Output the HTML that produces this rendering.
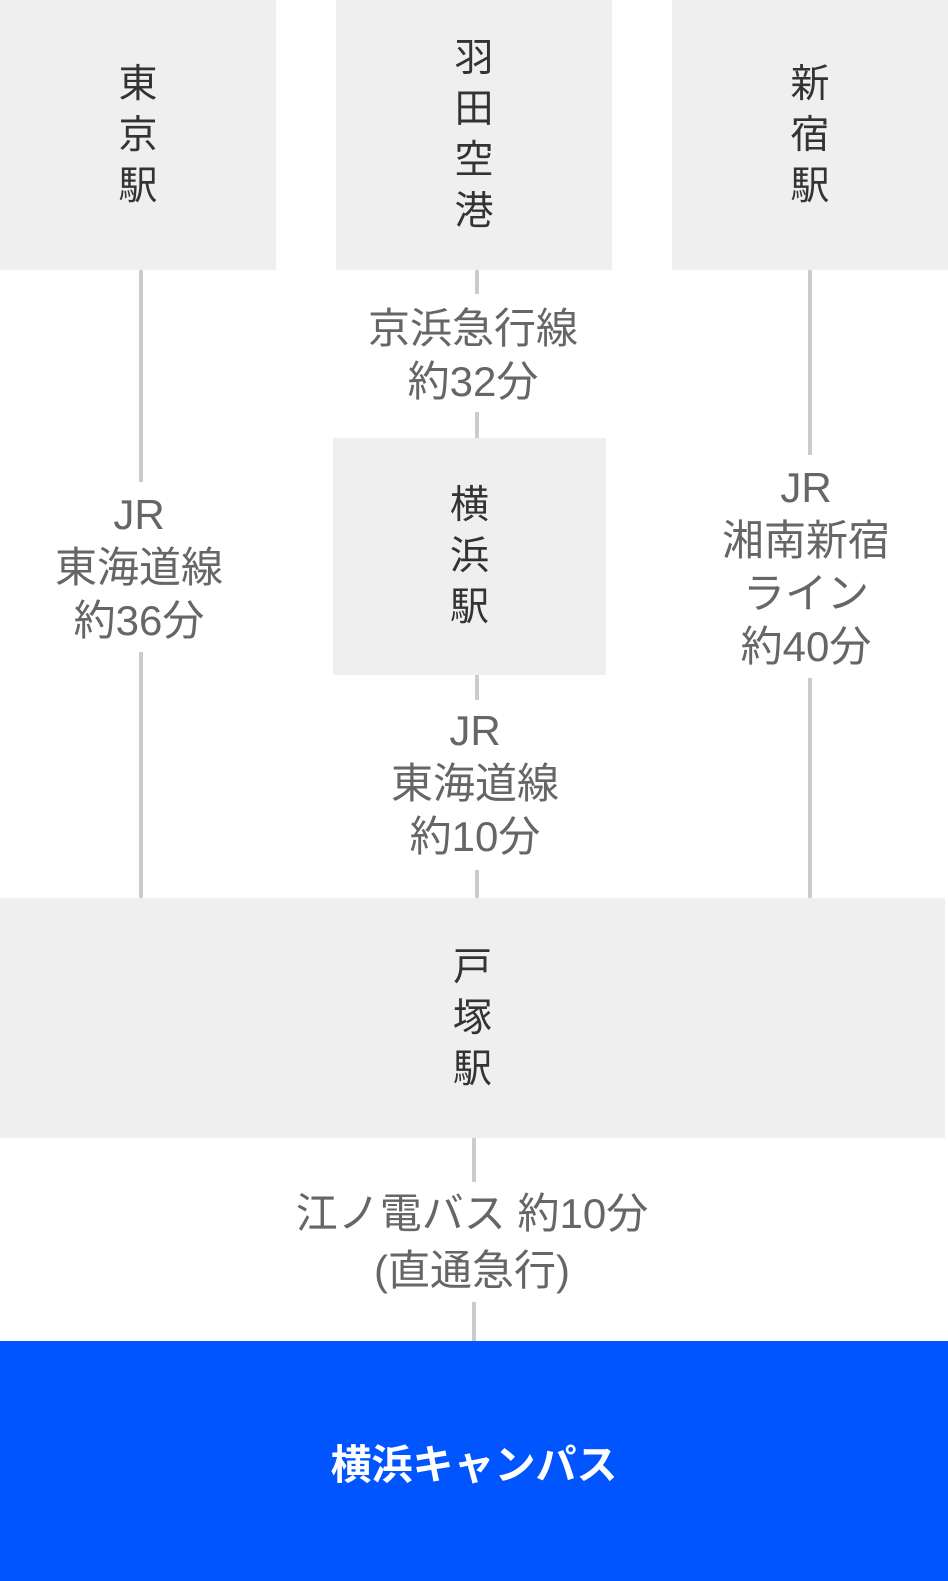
<!DOCTYPE html>
<html><head><meta charset="utf-8"><style>
body{margin:0;width:948px;height:1581px;position:relative;background:#fff;overflow:hidden;font-family:"Liberation Sans","Noto Sans CJK JP",sans-serif}
.b{position:absolute;background:#efefef;display:flex;align-items:center;justify-content:center;color:#333;font-size:39px;line-height:51px;text-align:center}
.v{width:1em}
.l{position:absolute;width:4px;background:#ccc}
.t{position:absolute;color:#666;font-size:42px;line-height:53px;text-align:center;white-space:nowrap;transform:translateX(-50%)}
</style></head><body>
<div class="b" style="left:0;top:0;width:276px;height:270px"><div class="v">東京駅</div></div>
<div class="b" style="left:336px;top:0;width:276px;height:270px"><div class="v">羽田空港</div></div>
<div class="b" style="left:672px;top:0;width:276px;height:270px"><div class="v">新宿駅</div></div>

<div class="l" style="left:139px;top:270px;height:212px"></div>
<div class="t" style="left:139px;top:488px">JR<br>東海道線<br>約36分</div>
<div class="l" style="left:139px;top:652px;height:246px"></div>

<div class="l" style="left:475px;top:270px;height:24px"></div>
<div class="t" style="left:473px;top:302px">京浜急行線<br>約32分</div>
<div class="l" style="left:475px;top:412px;height:26px"></div>
<div class="b" style="left:333px;top:438px;width:273px;height:237px"><div class="v">横浜駅</div></div>
<div class="l" style="left:475px;top:675px;height:25px"></div>
<div class="t" style="left:475px;top:704px">JR<br>東海道線<br>約10分</div>
<div class="l" style="left:475px;top:870px;height:28px"></div>

<div class="l" style="left:808px;top:270px;height:185px"></div>
<div class="t" style="left:806px;top:461px">JR<br>湘南新宿<br>ライン<br>約40分</div>
<div class="l" style="left:808px;top:678px;height:220px"></div>

<div class="b" style="left:0;top:898px;width:945px;height:240px"><div class="v">戸塚駅</div></div>
<div class="l" style="left:472px;top:1138px;height:44px"></div>
<div class="t" style="left:472px;top:1185px;line-height:57px">江ノ電バス 約10分<br>(直通急行)</div>
<div class="l" style="left:472px;top:1302px;height:39px"></div>
<div style="position:absolute;left:0;top:1341px;width:948px;height:240px;background:#0055ff;color:#fff;font-weight:bold;font-size:41px;display:flex;align-items:center;justify-content:center">横浜キャンパス</div>
</body></html>
